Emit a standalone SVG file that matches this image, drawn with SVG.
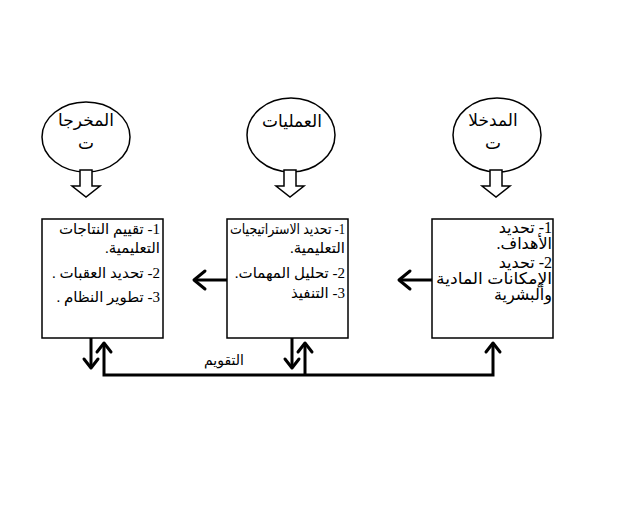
<svg xmlns="http://www.w3.org/2000/svg" width="640" height="512" viewBox="0 0 640 512">
<style>
.shape{fill:#fff;stroke:#000;stroke-width:1.5}
.block{fill:#fff;stroke:#000;stroke-width:1.5}
.lbl{font-family:"Liberation Serif","DejaVu Sans",serif;font-size:17px;fill:#000;text-anchor:middle}
.box{font-family:"Liberation Serif","DejaVu Sans",serif;font-size:15px;fill:#000;direction:rtl;unicode-bidi:embed;text-anchor:start}
.big{font-size:16px}
.con{fill:none;stroke:#000;stroke-width:3}
.head{fill:none;stroke:#000;stroke-width:3;stroke-linecap:round;stroke-linejoin:round}
</style>
<rect width="640" height="512" fill="#fff"/>
<g id="outputs-circle">
<ellipse class="shape" cx="86" cy="137" rx="44" ry="35"/>
<text class="lbl" x="86" y="126">المخرجا</text>
<text class="lbl" x="86" y="149">ت</text>
<path class="block" d="M80,170 L92,170 L92,186 L100,186 L86,197 L72,186 L80,186 Z"/>
</g>
<g id="processes-circle">
<ellipse class="shape" cx="291" cy="135" rx="44" ry="37"/>
<text class="lbl" x="292" y="127">العمليات</text>
<path class="block" d="M284,170 L296,170 L296,186 L304,186 L290,197 L276,186 L284,186 Z"/>
</g>
<g id="inputs-circle">
<ellipse class="shape" cx="497" cy="135" rx="44" ry="37"/>
<text class="lbl" x="493" y="126">المدخلا</text>
<text class="lbl" x="493" y="149">ت</text>
<path class="block" d="M490,170 L502,170 L502,186 L510,186 L496,197 L482,186 L490,186 Z"/>
</g>
<g id="outputs-box">
<rect class="shape" x="42" y="219" width="121" height="119"/>
<text class="box" x="160" y="234">1- تقييم النتاجات</text>
<text class="box" x="160" y="253">التعليمية.</text>
<text class="box" x="160" y="278">2- تحديد العقبات .</text>
<text class="box" x="160" y="302">3- تطوير النظام .</text>
</g>
<g id="processes-box">
<rect class="shape" x="227" y="219" width="121" height="119"/>
<text class="box" x="345" y="234" textLength="115" lengthAdjust="spacingAndGlyphs">1- تحديد الاستراتيجيات</text>
<text class="box" x="345" y="253">التعليمية.</text>
<text class="box" x="345" y="278">2- تحليل المهمات.</text>
<text class="box" x="345" y="298">3- التنفيذ</text>
</g>
<g id="inputs-box">
<rect class="shape" x="432" y="219" width="121" height="119"/>
<text class="box big" x="552" y="233">1- تحديد</text>
<text class="box big" x="552" y="249">الأهداف.</text>
<text class="box big" x="552" y="268">2- تحديد</text>
<text class="box big" x="552" y="284" textLength="116" lengthAdjust="spacingAndGlyphs">الإمكانات المادية</text>
<text class="box big" x="552" y="300">وألبشرية</text>
</g>
<g id="connectors">
<line class="con" x1="227" y1="280" x2="195" y2="280"/>
<polyline class="head" points="205,271 194,280 205,289"/>
<line class="con" x1="432" y1="280" x2="400" y2="280"/>
<polyline class="head" points="410,271 399,280 410,289"/>
<line class="con" x1="91" y1="338" x2="91" y2="367"/>
<polyline class="head" points="84,359 91,368 98,359"/>
<line class="con" x1="292" y1="338" x2="292" y2="367"/>
<polyline class="head" points="285,359 292,368 299,359"/>
<polyline class="con" points="104,344 104,375 493,375 493,344"/>
<line class="con" x1="305" y1="375" x2="305" y2="344"/>
<polyline class="head" points="97,352 104,343 111,352"/>
<polyline class="head" points="298,352 305,343 312,352"/>
<polyline class="head" points="486,352 493,343 500,352"/>
<text class="lbl" x="224" y="365" style="font-size:14px">التقويم</text>
</g>
</svg>
